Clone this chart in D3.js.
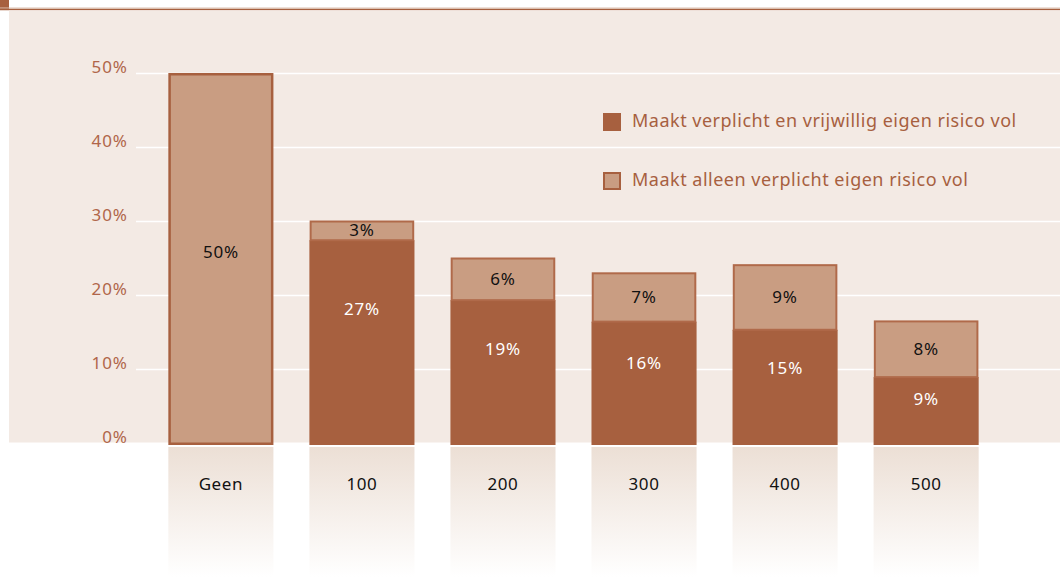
<!DOCTYPE html>
<html>
<head>
<meta charset="utf-8">
<script src="https://cdn.jsdelivr.net/npm/d3@7"></script>
<style>
  body { margin: 0; background: #fff; }
  svg { display: block; font-family: "Noto Sans", "Open Sans", sans-serif; }
</style>
</head>
<body>
<div id="chart"></div>
<script>
// eigen risico levels
var categories = ["Geen", "100", "200", "300", "400", "500"];
// Maakt verplicht en vrijwillig eigen risico vol (dark)
var vrijwillig = [0, 27.4, 19.3, 16.4, 15.3, 8.9];
// Maakt alleen verplicht eigen risico vol (light)
var verplicht = [50, 2.7, 5.8, 6.7, 8.9, 7.7];
var yTicks = [0, 10, 20, 30, 40, 50];
var legendLabels = ["Maakt verplicht en vrijwillig eigen risico vol", "Maakt alleen verplicht eigen risico vol"];

var width = 1060, height = 577;
var dark = "#a7603f", light = "#c99d82", panel = "#f3eae4";

var svg = d3.select("#chart").append("svg")
  .attr("width", width)
  .attr("height", height);

var defs = svg.append("defs");
var grad = defs.append("linearGradient")
  .attr("id", "reflect")
  .attr("x1", 0).attr("y1", 0).attr("x2", 0).attr("y2", 1);
grad.append("stop").attr("offset", "0%").attr("stop-color", "#ecdfd5");
grad.append("stop").attr("offset", "100%").attr("stop-color", "#ffffff");

// header strip
svg.append("rect").attr("x", 0).attr("y", 0).attr("width", 9).attr("height", 10).attr("fill", dark);
svg.append("line").attr("x1", 0).attr("x2", width).attr("y1", 8).attr("y2", 8)
  .attr("stroke", "#dcc1b1").attr("stroke-width", 1);
svg.append("line").attr("x1", 0).attr("x2", width).attr("y1", 9.5).attr("y2", 9.5)
  .attr("stroke", dark).attr("stroke-width", 1.5);

// panel
svg.append("rect").attr("x", 9).attr("y", 10.5).attr("width", width - 9).attr("height", 432)
  .attr("fill", panel);

var xScale = d3.scaleBand()
  .domain(categories)
  .range([150, 997])
  .paddingInner(0.255)
  .paddingOuter(0.13);

var yScale = d3.scaleLinear()
  .domain([0, 50])
  .range([443, 73]);

// gridlines
svg.append("g")
  .attr("class", "grid")
  .attr("transform", "translate(136,0)")
  .call(d3.axisLeft(yScale).tickValues(yTicks.filter(function(d) { return d > 0; }))
    .tickSize(-(width - 136)).tickFormat(""))
  .call(function(g) {
    g.select(".domain").remove();
    g.selectAll("line").attr("stroke", "#ffffff").attr("stroke-width", 1.5);
  });

// y axis labels
svg.append("g")
  .attr("transform", "translate(128,0)")
  .call(d3.axisLeft(yScale).tickValues(yTicks).tickSize(0).tickPadding(0)
    .tickFormat(function(d) { return d + "%"; }))
  .call(function(g) {
    g.select(".domain").remove();
    g.selectAll("text")
      .attr("dy", "-0.05em")
      .attr("fill", "#b0664a")
      .style("font-size", "17px")
      .style("letter-spacing", "1px")
      .style("font-family", "'Noto Sans', sans-serif");
  });

var data = categories.map(function(c, i) {
  return { cat: c, dark: vrijwillig[i], light: verplicht[i] };
});

// reflections below the panel
svg.selectAll("rect.reflect")
  .data(data)
  .enter().append("rect")
  .attr("class", "reflect")
  .attr("x", function(d) { return xScale(d.cat); })
  .attr("y", 447)
  .attr("width", xScale.bandwidth())
  .attr("height", height - 447)
  .attr("fill", "url(#reflect)");

// category labels
svg.selectAll("text.cat")
  .data(data)
  .enter().append("text")
  .attr("class", "cat")
  .attr("x", function(d) { return xScale(d.cat) + xScale.bandwidth() / 2; })
  .attr("y", 490)
  .attr("text-anchor", "middle")
  .attr("fill", "#111")
  .style("font-size", "17px")
  .style("letter-spacing", "0.6px")
  .text(function(d) { return d.cat; });

// dark segments
svg.selectAll("rect.dark")
  .data(data.filter(function(d) { return d.dark > 0; }))
  .enter().append("rect")
  .attr("class", "dark")
  .attr("x", function(d) { return xScale(d.cat); })
  .attr("y", function(d) { return yScale(d.dark); })
  .attr("width", xScale.bandwidth())
  .attr("height", function(d) { return yScale(0) - yScale(d.dark) + 2; })
  .attr("fill", dark);

// light segments
svg.selectAll("rect.light")
  .data(data)
  .enter().append("rect")
  .attr("class", "light")
  .attr("x", function(d) { return xScale(d.cat) + 1.25; })
  .attr("y", function(d) { return yScale(d.dark + d.light) + 1.25; })
  .attr("width", xScale.bandwidth() - 2.5)
  .attr("height", function(d) {
    var h = yScale(d.dark) - yScale(d.dark + d.light) - 2.5;
    return d.dark > 0 ? h + 1.25 : h + 2;
  })
  .attr("fill", light)
  .attr("stroke", function(d) { return d.dark > 0 ? "#b06a4a" : dark; })
  .attr("stroke-width", function(d) { return d.dark > 0 ? 2 : 2.5; });

// value labels
svg.selectAll("text.vlight")
  .data(data)
  .enter().append("text")
  .attr("class", "vlight")
  .attr("x", function(d) { return xScale(d.cat) + xScale.bandwidth() / 2; })
  .attr("y", function(d) {
    return d.dark > 0 ? (yScale(d.dark) + yScale(d.dark + d.light)) / 2 : yScale(d.light) + (yScale(0) - yScale(d.light)) * 0.485;
  })
  .attr("dy", "0.35em")
  .attr("text-anchor", "middle")
  .attr("fill", "#111")
  .style("font-size", "17px")
  .style("letter-spacing", "0.8px")
  .text(function(d) { return Math.round(d.light) + "%"; });

svg.selectAll("text.vdark")
  .data(data.filter(function(d) { return d.dark > 0; }))
  .enter().append("text")
  .attr("class", "vdark")
  .attr("x", function(d) { return xScale(d.cat) + xScale.bandwidth() / 2; })
  .attr("y", function(d) { return yScale(d.dark) + (yScale(0) - yScale(d.dark)) * 0.34; })
  .attr("dy", "0.35em")
  .attr("text-anchor", "middle")
  .attr("fill", "#ffffff")
  .style("font-size", "17px")
  .style("letter-spacing", "0.8px")
  .text(function(d) { return Math.round(d.dark) + "%"; });

// legend
var legend = svg.append("g").attr("transform", "translate(603,113)");
var items = legend.selectAll("g")
  .data(legendLabels)
  .enter().append("g")
  .attr("transform", function(d, i) { return "translate(0," + (i * 59) + ")"; });
items.append("rect")
  .attr("x", function(d, i) { return i ? 1 : 0; })
  .attr("y", function(d, i) { return i ? 1 : 0; })
  .attr("width", function(d, i) { return i ? 16 : 18; })
  .attr("height", function(d, i) { return i ? 16 : 18; })
  .attr("fill", function(d, i) { return i ? light : dark; })
  .attr("stroke", function(d, i) { return i ? dark : "none"; })
  .attr("stroke-width", 2);
items.append("text")
  .attr("x", 29)
  .attr("y", 8)
  .attr("dy", "0.35em")
  .attr("fill", "#a7603f")
  .style("font-size", "18px")
  .style("letter-spacing", "0.5px")
  .text(function(d) { return d; });
</script>
</body>
</html>
